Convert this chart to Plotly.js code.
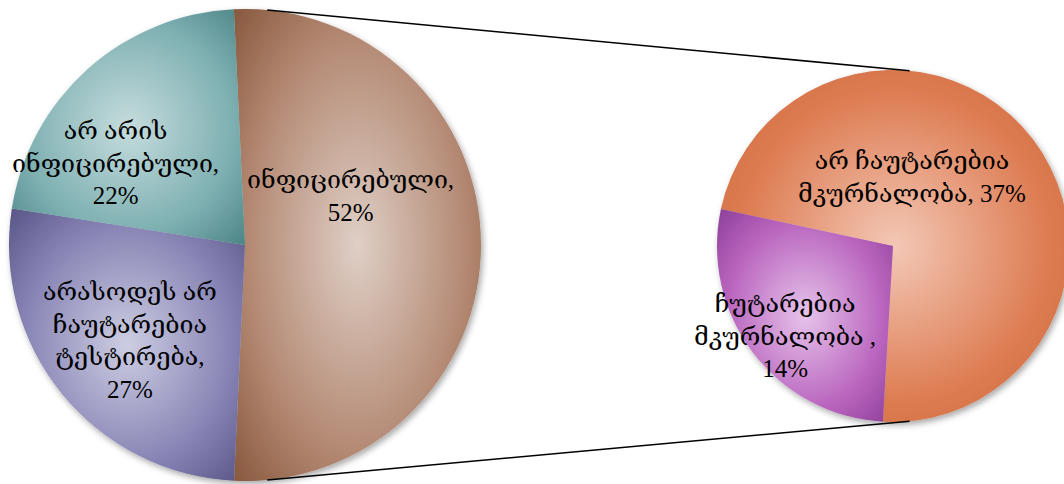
<!DOCTYPE html>
<html>
<head>
<meta charset="utf-8">
<script src="https://cdn.plot.ly/plotly-3.0.1.min.js"></script>
<style>
  html, body { margin: 0; padding: 0; overflow: hidden; background: #fff; }
  #chart { width: 1072px; height: 484px; }
</style>
</head>
<body>
<div id="chart"></div>
<script>
// ---- data ----
const mainCategories = ['ინფიცირებული', 'არასოდეს არ ჩაუტარებია ტესტირება', 'არ არის ინფიცირებული'];
const mainValues = [52, 27, 22];
const subCategories = ['არ ჩაუტარებია მკურნალობა', 'ჩუტარებია მკურნალობა '];
const subValues = [37, 14];

// ---- styling / layout ----
const W = 1072, H = 484;
const M = {l: 0, r: 0, t: 9, b: 3};
const PW = W - M.l - M.r, PH = H - M.t - M.b;
function px2x(px) { return (px - M.l) / PW; }
function py2y(py) { return (M.t + PH - py) / PH; }

const mainColors = [
  {edge: '#85563a', mid: '#b38872', light: '#dfcfc6'},
  {edge: '#565284', mid: '#8683b4', light: '#cdcde2'},
  {edge: '#4a8284', mid: '#7eb0b2', light: '#c6dcdd'}
];
const subColors = [
  {edge: '#c9663c', mid: '#dd7b51', light: '#f3c8b6'},
  {edge: '#8a3e96', mid: '#b964be', light: '#e6c3ea'}
];

// pixel geometry of the two pies
const mainDomain = {x: [px2x(9), px2x(481)], y: [0, 1]};
const subDomain = {x: [px2x(717), px2x(1069)], y: [py2y(422), py2y(70)]};

// label line-break flags (which spaces become line breaks)
const mainBreaks = [[true], [false, true, true, true], [false, true, true]];
const subBreaks = [[false, true, false], [true, false, true]];
// label block centres (pixels)
const mainLabelPos = [[350, 196], [130, 340], [116, 163]];
const subLabelPos = [[912, 177], [785, 336]];

function buildLabel(cat, val, breaks) {
  const s = cat + ', ' + val + '%';
  const parts = s.split(' ');
  let out = parts[0];
  for (let i = 1; i < parts.length; i++) {
    out += (breaks[i - 1] ? '<br>' : ' ') + parts[i];
  }
  return out;
}

const labelFont = {family: 'Liberation Serif, DejaVu Serif, serif', size: 25, color: '#000'};

const annotations = [];
mainCategories.forEach((c, i) => annotations.push({
  text: buildLabel(c, mainValues[i], mainBreaks[i]),
  xref: 'paper', yref: 'paper', x: px2x(mainLabelPos[i][0]), y: py2y(mainLabelPos[i][1]),
  xanchor: 'center', yanchor: 'middle', showarrow: false, align: 'center', font: labelFont
}));
subCategories.forEach((c, i) => annotations.push({
  text: buildLabel(c, subValues[i], subBreaks[i]),
  xref: 'paper', yref: 'paper', x: px2x(subLabelPos[i][0]), y: py2y(subLabelPos[i][1]),
  xanchor: 'center', yanchor: 'middle', showarrow: false, align: 'center', font: labelFont
}));

// connector lines from geometry
function pieGeom(d) {
  const x0 = M.l + d.x[0] * PW, x1 = M.l + d.x[1] * PW;
  const y0 = M.t + (1 - d.y[1]) * PH, y1 = M.t + (1 - d.y[0]) * PH;
  return {cx: (x0 + x1) / 2, cy: (y0 + y1) / 2, r: Math.min(x1 - x0, y1 - y0) / 2};
}
const gA = pieGeom(mainDomain), gB = pieGeom(subDomain);
const connAngle = 5.4 * Math.PI / 180;
const shapes = [-1, 1].map(s => ({
  type: 'line', xref: 'paper', yref: 'paper',
  x0: px2x(gA.cx + gA.r * Math.sin(connAngle)), y0: py2y(gA.cy + s * gA.r * Math.cos(connAngle)),
  x1: px2x(gB.cx + gB.r * Math.sin(connAngle)), y1: py2y(gB.cy + s * gB.r * Math.cos(connAngle)),
  line: {color: '#000', width: 1.6}
}));

const data = [
  {
    type: 'pie', labels: mainCategories, values: mainValues, sort: false,
    direction: 'clockwise', rotation: -2.7, domain: mainDomain,
    marker: {colors: mainColors.map(c => c.mid), line: {width: 0}},
    textinfo: 'none', hoverinfo: 'skip', showlegend: false
  },
  {
    type: 'pie', labels: subCategories, values: subValues, sort: false,
    direction: 'clockwise', rotation: -77.9, domain: subDomain,
    marker: {colors: subColors.map(c => c.mid), line: {width: 0}},
    textinfo: 'none', hoverinfo: 'skip', showlegend: false
  }
];

const layout = {
  width: W, height: H, margin: M,
  paper_bgcolor: '#fff', plot_bgcolor: '#fff',
  showlegend: false, annotations: annotations, shapes: shapes
};

Plotly.newPlot('chart', data, layout, {staticPlot: true}).then(gd => {
  const NS = 'http://www.w3.org/2000/svg';
  const svg = gd.querySelector('svg.main-svg');
  let defs = svg.querySelector('defs');
  if (!defs) { defs = document.createElementNS(NS, 'defs'); svg.insertBefore(defs, svg.firstChild); }
  const filt = document.createElementNS(NS, 'filter');
  filt.setAttribute('id', 'pieShadow');
  filt.setAttribute('x', '-10%'); filt.setAttribute('y', '-10%');
  filt.setAttribute('width', '125%'); filt.setAttribute('height', '125%');
  const ds = document.createElementNS(NS, 'feDropShadow');
  ds.setAttribute('dx', '2'); ds.setAttribute('dy', '3');
  ds.setAttribute('stdDeviation', '3');
  ds.setAttribute('flood-color', '#000'); ds.setAttribute('flood-opacity', '0.35');
  filt.appendChild(ds); defs.appendChild(filt);

  function makeGrad(id, c) {
    const g = document.createElementNS(NS, 'radialGradient');
    g.setAttribute('id', id);
    g.setAttribute('cx', '0.5'); g.setAttribute('cy', '0.5'); g.setAttribute('r', '0.72');
    [[0, c.light], [0.62, c.mid], [1, c.edge]].forEach(([o, col]) => {
      const st = document.createElementNS(NS, 'stop');
      st.setAttribute('offset', o); st.setAttribute('stop-color', col);
      g.appendChild(st);
    });
    defs.appendChild(g);
  }
  const palettes = [mainColors, subColors];
  const traces = gd.querySelectorAll('.pielayer .trace');
  traces.forEach((tr, ti) => {
    tr.setAttribute('filter', 'url(#pieShadow)');
    tr.querySelectorAll('.slice path.surface').forEach((p, si) => {
      const id = 'grad_' + ti + '_' + si;
      makeGrad(id, palettes[ti][si]);
      p.style.fill = 'url(#' + id + ')';
    });
  });
});
</script>
</body>
</html>
